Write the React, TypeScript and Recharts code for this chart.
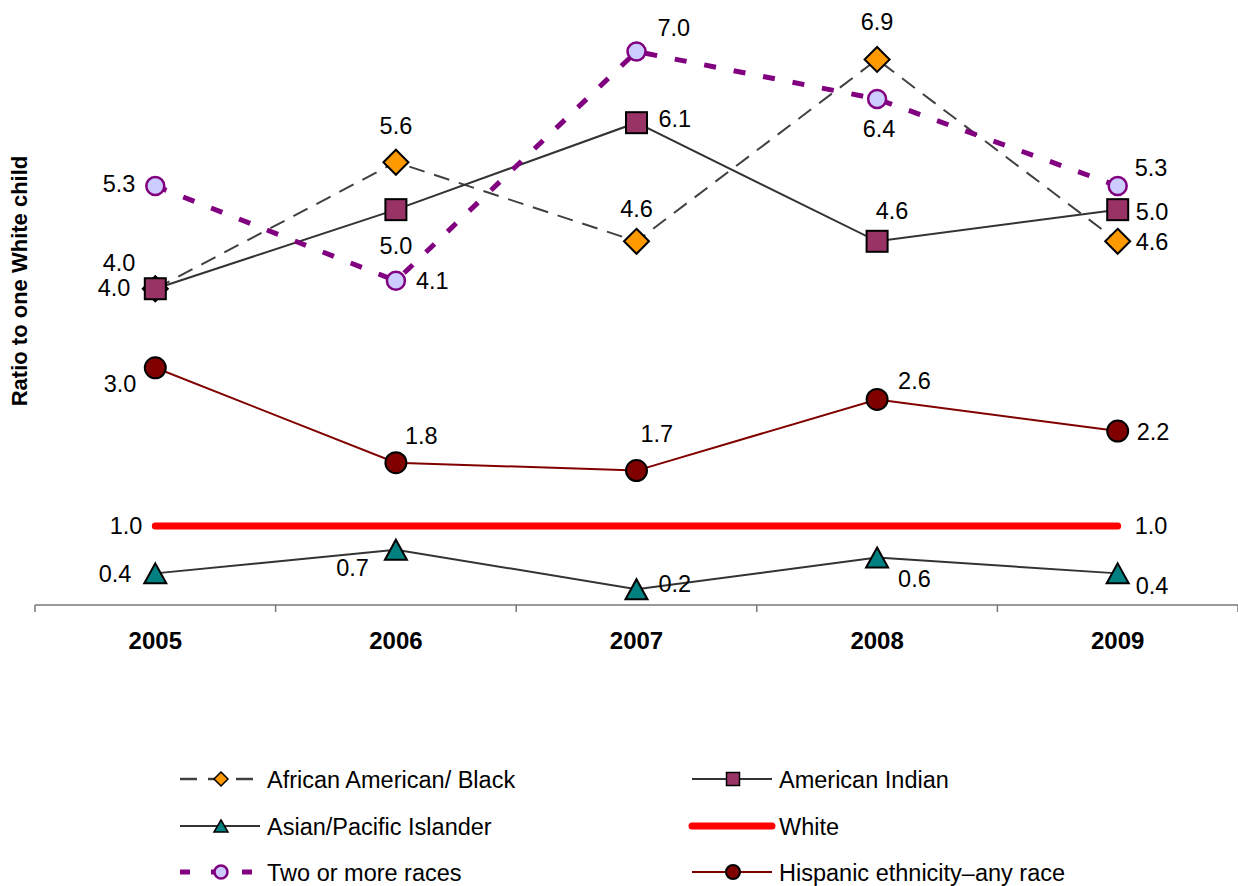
import React from 'react'
import { LineChart, Line, XAxis, YAxis } from 'recharts'

const years = ['2005', '2006', '2007', '2008', '2009']
const africanAmerican = [4.0, 5.6, 4.6, 6.9, 4.6]
const americanIndian = [4.0, 5.0, 6.1, 4.6, 5.0]
const asianPacific = [0.4, 0.7, 0.2, 0.6, 0.4]
const white = [1.0, 1.0, 1.0, 1.0, 1.0]
const twoOrMore = [5.3, 4.1, 7.0, 6.4, 5.3]
const hispanic = [3.0, 1.8, 1.7, 2.6, 2.2]

const W = 1238
const H = 886
const margin = { top: 12, right: 0, bottom: 221, left: 35 }
const axisH = 60
const axisY = H - margin.bottom - axisH
const band = (W - margin.left - margin.right) / years.length
const FONT = '"Liberation Sans", Arial, sans-serif'
const LABEL_SIZE = 23.5

const rows = years.map((year, i) => ({
  year,
  africanAmerican: africanAmerican[i],
  americanIndian: americanIndian[i],
  asianPacific: asianPacific[i],
  white: white[i],
  twoOrMore: twoOrMore[i],
  hispanic: hispanic[i],
}))

// label offsets per point: [dx, dy, anchor]
type Spot = [number, number, 'start' | 'middle' | 'end'] | null
const spotsAfrican: Spot[] = [[-20, -26, 'end'], [0, -37, 'middle'], [0, -33, 'middle'], [0, -38, 'middle'], [18, 0, 'start']]
const spotsIndian: Spot[] = [[-25, -1, 'end'], [0, 36, 'middle'], [22, -4, 'start'], [15, -31, 'middle'], [18, 2, 'start']]
const spotsAsian: Spot[] = [[-24, 0, 'end'], [-27, 18, 'end'], [22, -6, 'start'], [21, 21, 'start'], [18, 12, 'start']]
const spotsWhite: Spot[] = [[-13, 0, 'end'], null, null, null, [17, 0, 'start']]
const spotsTwo: Spot[] = [[-20, -2, 'end'], [20, 0, 'start'], [21, -24, 'start'], [2, 30, 'middle'], [17, -18, 'start']]
const spotsHispanic: Spot[] = [[-19, 16, 'end'], [9, -27, 'start'], [4, -37, 'start'], [21, -19, 'start'], [19, 0, 'start']]

const makeLabel = (spots: Spot[]) => (props: any) => {
  const { x, y, value, index } = props
  const s = spots[index]
  if (!s || value == null) return null
  return (
    <text key={`l-${index}`} x={x + s[0]} y={y + s[1] + 8.5} textAnchor={s[2]} fontSize={LABEL_SIZE} fontFamily={FONT} fill="#000">
      {Number(value).toFixed(1)}
    </text>
  )
}

const diamond = (cx: number, cy: number, r: number, sw = 2) => (
  <polygon points={`${cx},${cy - r} ${cx + r},${cy} ${cx},${cy + r} ${cx - r},${cy}`} fill="#FF9900" stroke="#000" strokeWidth={sw} />
)
const square = (cx: number, cy: number, s: number, sw = 2) => (
  <rect x={cx - s / 2} y={cy - s / 2} width={s} height={s} fill="#993366" stroke="#000" strokeWidth={sw} />
)
const triangle = (cx: number, cy: number, w: number, h: number, sw = 2) => (
  <polygon points={`${cx},${cy - h / 2} ${cx + w / 2},${cy + h / 2} ${cx - w / 2},${cy + h / 2}`} fill="#008080" stroke="#000" strokeWidth={sw} />
)
const lilac = (cx: number, cy: number, r: number) => (
  <circle cx={cx} cy={cy} r={r} fill="#CCCCFF" stroke="#800080" strokeWidth={2.5} />
)
const maroon = (cx: number, cy: number, r: number) => (
  <circle cx={cx} cy={cy} r={r} fill="#800000" stroke="#000" strokeWidth={2} />
)

const YearTick = (props: any) => {
  const { x, payload, index } = props
  return (
    <g>
      {index === 0 && <line x1={x - band / 2} x2={x - band / 2} y1={axisY} y2={axisY + 7} stroke="#777" strokeWidth={1.5} />}
      <line x1={x + band / 2} x2={x + band / 2} y1={axisY} y2={axisY + 7} stroke="#777" strokeWidth={1.5} />
      <text x={x} y={axisY + 44} textAnchor="middle" fontSize={24} fontWeight="bold" fontFamily={FONT} fill="#000">
        {payload.value}
      </text>
    </g>
  )
}

const legendRows = [
  { y: 779, x: 180, name: 'African American/ Black', line: { stroke: '#404040', width: 2.5, dash: '17 11' }, mark: (cx: number, cy: number) => diamond(cx, cy, 7, 1.5) },
  { y: 779, x: 692, name: 'American Indian', line: { stroke: '#333333', width: 2, dash: undefined }, mark: (cx: number, cy: number) => square(cx, cy, 13, 1.5) },
  { y: 826, x: 180, name: 'Asian/Pacific Islander', line: { stroke: '#333333', width: 2, dash: undefined }, mark: (cx: number, cy: number) => triangle(cx, cy, 14, 12, 1.5) },
  { y: 826, x: 692, name: 'White', line: { stroke: '#FF0000', width: 7, dash: undefined }, mark: null },
  { y: 872, x: 180, name: 'Two or more races', line: { stroke: '#800080', width: 5, dash: '10 21' }, mark: (cx: number, cy: number) => lilac(cx, cy, 6.5) },
  { y: 872, x: 692, name: 'Hispanic ethnicity\u2013any race', line: { stroke: '#800000', width: 2, dash: undefined }, mark: (cx: number, cy: number) => maroon(cx, cy, 7) },
]

export default function App() {
  return (
    <div style={{ position: 'absolute', left: 0, top: 0, width: W, height: H, background: '#fff' }}>
      <LineChart width={W} height={H} data={rows} margin={margin}>
        <XAxis
          dataKey="year"
          padding={{ left: band / 2, right: band / 2 }}
          axisLine={{ stroke: '#777', strokeWidth: 1.5 }}
          tickLine={false}
          tick={<YearTick />}
          interval={0}
          height={axisH}
        />
        <YAxis hide domain={[0, 7.5]} />
        <Line
          dataKey="africanAmerican"
          stroke="#404040"
          strokeWidth={2}
          strokeDasharray="16 10"
          isAnimationActive={false}
          activeDot={false}
          dot={(p: any) => <g key={`d-${p.index}`}>{diamond(p.cx, p.cy, 12.5)}</g>}
          label={makeLabel(spotsAfrican)}
        />
        <Line
          dataKey="americanIndian"
          stroke="#333333"
          strokeWidth={2}
          isAnimationActive={false}
          activeDot={false}
          dot={(p: any) => <g key={`s-${p.index}`}>{square(p.cx, p.cy, 21)}</g>}
          label={makeLabel(spotsIndian)}
        />
        <Line
          dataKey="asianPacific"
          stroke="#333333"
          strokeWidth={2}
          isAnimationActive={false}
          activeDot={false}
          dot={(p: any) => <g key={`t-${p.index}`}>{triangle(p.cx, p.cy, 22, 20)}</g>}
          label={makeLabel(spotsAsian)}
        />
        <Line
          dataKey="white"
          stroke="#FF0000"
          strokeWidth={7}
          strokeLinecap="round"
          isAnimationActive={false}
          activeDot={false}
          dot={false}
          label={makeLabel(spotsWhite)}
        />
        <Line
          dataKey="twoOrMore"
          stroke="#800080"
          strokeWidth={5}
          strokeDasharray="12 18"
          isAnimationActive={false}
          activeDot={false}
          dot={(p: any) => <g key={`c-${p.index}`}>{lilac(p.cx, p.cy, 9)}</g>}
          label={makeLabel(spotsTwo)}
        />
        <Line
          dataKey="hispanic"
          stroke="#800000"
          strokeWidth={2}
          isAnimationActive={false}
          activeDot={false}
          dot={(p: any) => <g key={`h-${p.index}`}>{maroon(p.cx, p.cy, 10.5)}</g>}
          label={makeLabel(spotsHispanic)}
        />
      </LineChart>
      <svg width={W} height={H} style={{ position: 'absolute', left: 0, top: 0, pointerEvents: 'none' }}>
        <text
          x={27}
          y={281}
          transform="rotate(-90 27 281)"
          textAnchor="middle"
          fontSize={22}
          fontWeight="bold"
          fontFamily={FONT}
          fill="#000"
        >
          Ratio to one White child
        </text>
        {legendRows.map((r) => (
          <g key={r.name}>
            <line
              x1={r.x}
              x2={r.x + 80}
              y1={r.y}
              y2={r.y}
              stroke={r.line.stroke}
              strokeWidth={r.line.width}
              strokeDasharray={r.line.dash}
              strokeLinecap={r.name === 'White' ? 'round' : 'butt'}
            />
            {r.mark && r.mark(r.x + 41, r.y)}
            <text x={r.x + 87} y={r.y + 8.5} fontSize={23.5} fontFamily={FONT} fill="#000">
              {r.name}
            </text>
          </g>
        ))}
      </svg>
    </div>
  )
}
